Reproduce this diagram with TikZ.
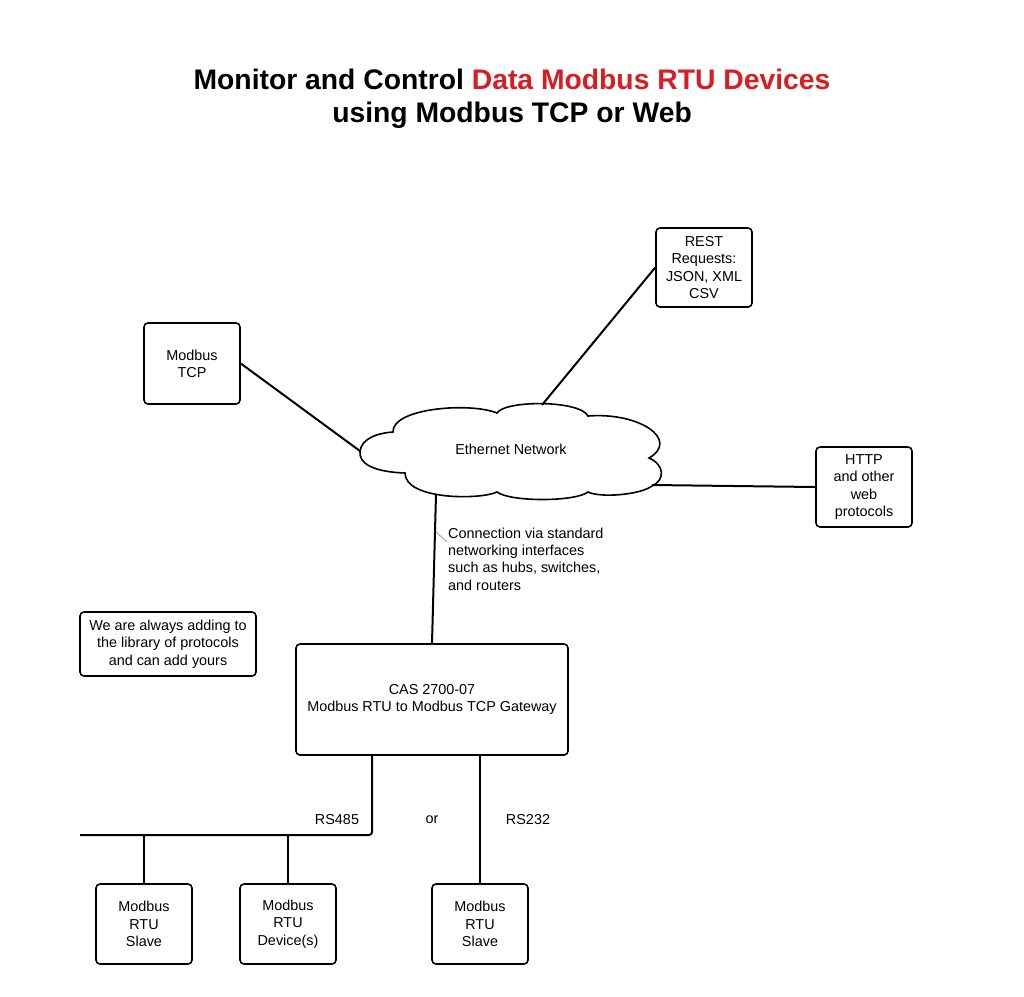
\documentclass[tikz,border=0pt]{standalone}
\usepackage{fontspec}
\setmainfont{Liberation Sans}
\definecolor{titlered}{RGB}{214,30,36}
\begin{document}
\begin{tikzpicture}[x=1pt,y=-1pt,
  box/.style={draw=black, line width=1.6pt, rounded corners=4pt, align=center, inner sep=0pt, font=\fontsize{14.4}{17.3}\selectfont},
  wire/.style={line width=2pt},
  lbl/.style={font=\fontsize{14.4}{17.3}\selectfont, inner sep=0pt},
  ttl/.style={font=\fontsize{28.3}{34}\selectfont\bfseries, inner sep=0pt, anchor=base},
  leader/.style={draw=gray, line width=0.6pt}
]
\useasboundingbox[fill=white] (0,0) rectangle (1024,996);

% title
\node[ttl] (t1) at (512,89) {Monitor and Control \textcolor{titlered}{Data Modbus RTU Devices}};
\node[ttl] (t2) at (512,122) {using Modbus TCP or Web};

% cloud
\draw[line width=1.6pt, fill=white]
  (360,451) .. controls (362,438) and (378,433) .. (393,432)
  .. controls (392,408) and (470,402) .. (497,413)
  .. controls (505,400) and (580,400) .. (588,416)
  .. controls (640,412) and (680,440) .. (649,458)
  .. controls (665,465) and (665,480) .. (652,486)
  .. controls (640,495) and (600,498) .. (588,492)
  .. controls (575,502) and (510,502) .. (497,492)
  .. controls (480,500) and (405,500) .. (405,473)
  .. controls (375,472) and (358,464) .. (360,451) -- cycle;
\node[lbl] (cloud) at (511,449) {Ethernet Network};
\coordinate (cltcp) at (360,451);
\coordinate (clrest) at (542,405);
\coordinate (clhttp) at (652,485);
\coordinate (clgw) at (436,494);

% boxes
\node[box, minimum width=96pt, minimum height=81pt] (tcp) at (192,363.5) {Modbus\\TCP};
\node[box, minimum width=96pt, minimum height=79pt] (rest) at (704,267.5) {REST\\Requests:\\JSON, XML\\CSV};
\node[box, minimum width=96pt, minimum height=80pt] (http) at (864,487) {HTTP\\and other\\web\\protocols};
\node[box, minimum width=176pt, minimum height=64pt] (note) at (168,644) {We are always adding to\\the library of protocols\\and can add yours};
\node[box, minimum width=272pt, minimum height=111pt] (gw) at (432,699.5) {CAS 2700-07\\Modbus RTU to Modbus TCP Gateway};
\node[box, minimum width=96pt, minimum height=80pt] (s1) at (144,924) {Modbus\\RTU\\Slave};
\node[box, minimum width=96pt, minimum height=80pt] (dev) at (288,924) {Modbus\\RTU\\Device(s)};
\node[box, minimum width=96pt, minimum height=80pt] (s2) at (480,924) {Modbus\\RTU\\Slave};

% connectors
\draw[wire] (tcp.east) -- (cltcp);
\draw[wire] (rest.west) -- (clrest);
\draw[wire] (clhttp) -- (http.west);
\draw[wire] (clgw) -- (gw.north);

\coordinate (busend) at (80,835);
\draw[wire, rounded corners=3pt] ([xshift=-60pt]gw.south) |- (busend);
\draw[wire] (s1.north) -- (s1.north |- busend);
\draw[wire] (dev.north) -- (dev.north |- busend);
\draw[wire] (s2.north) -- (s2.north |- gw.south);

% labels
\node[lbl] (rs485) at (337,820) {RS485};
\node[lbl] (or) at (432,820) {or};
\node[lbl] (rs232) at (528,820) {RS232};
\node[lbl, anchor=west, align=left] (conn) at (448,559) {Connection via standard\\networking interfaces\\such as hubs, switches,\\and routers};
\coordinate (leadA) at (436,532);
\coordinate (leadB) at (447,542);
\draw[leader] (leadA) -- (leadB);
\end{tikzpicture}
\end{document}
